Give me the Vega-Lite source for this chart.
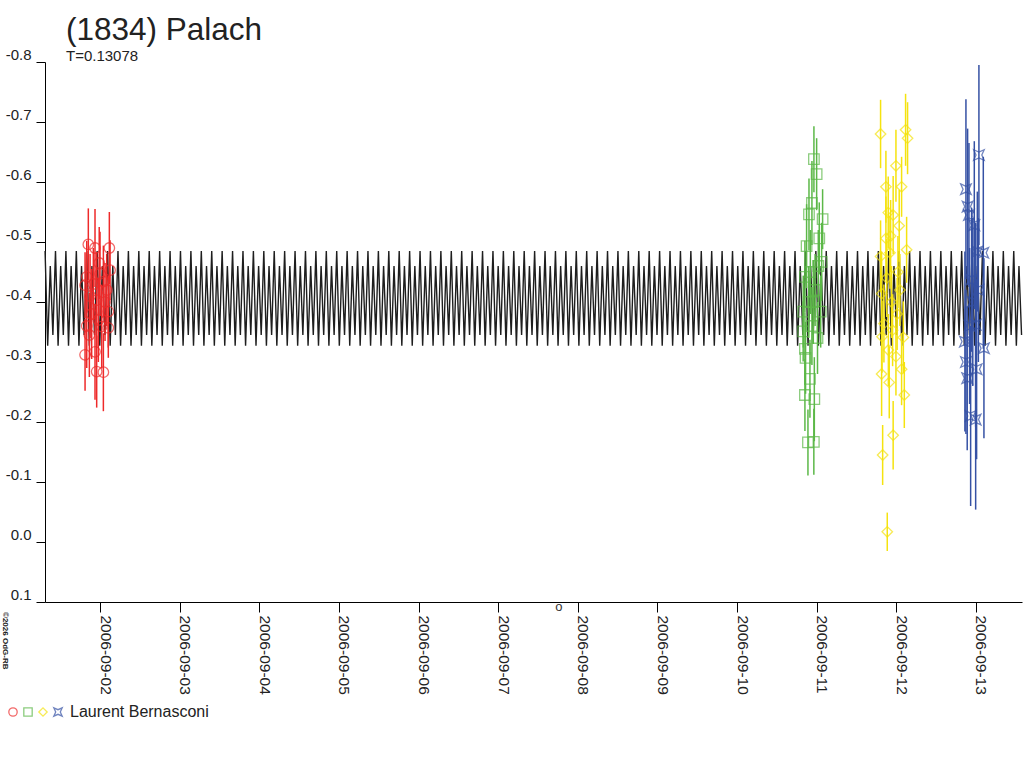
{
"$schema":"https://vega.github.io/schema/vega-lite/v6.json",
"width":977,"height":540,
"autosize":{"type":"none"},
"padding":{"left":45,"top":62,"right":2,"bottom":166},
"background":"white",
"title":{"text":"(1834) Palach","subtitle":"T=0.13078","anchor":"start","frame":"group","fontSize":31.5,"font":"Liberation Sans","fontWeight":"normal","color":"#222","subtitleFont":"Liberation Sans","subtitleFontSize":15,"subtitleColor":"#222","subtitlePadding":3,"offset":-17,"dx":21},
"config":{"view":{"stroke":null},"axis":{"domainColor":"#000","tickColor":"#000","labelColor":"#222","labelFont":"Liberation Sans","labelFontSize":15,"grid":false,"labelFlush":false,"labelOverlap":false,"labelBound":false}},
"datasets":{
"curve":[
{"d":1.3100,"m":-0.485},{"d":1.3427,"m":-0.327},{"d":1.3754,"m":-0.46},{"d":1.4081,"m":-0.345},
{"d":1.4408,"m":-0.485},{"d":1.4735,"m":-0.327},{"d":1.5062,"m":-0.46},{"d":1.5389,"m":-0.345},
{"d":1.5716,"m":-0.485},{"d":1.6043,"m":-0.327},{"d":1.6370,"m":-0.46},{"d":1.6697,"m":-0.345},
{"d":1.7024,"m":-0.485},{"d":1.7351,"m":-0.327},{"d":1.7678,"m":-0.46},{"d":1.8005,"m":-0.345},
{"d":1.8332,"m":-0.485},{"d":1.8659,"m":-0.327},{"d":1.8986,"m":-0.46},{"d":1.9313,"m":-0.345},
{"d":1.9640,"m":-0.485},{"d":1.9967,"m":-0.327},{"d":2.0294,"m":-0.46},{"d":2.0621,"m":-0.345},
{"d":2.0948,"m":-0.485},{"d":2.1275,"m":-0.327},{"d":2.1602,"m":-0.46},{"d":2.1929,"m":-0.345},
{"d":2.2256,"m":-0.485},{"d":2.2583,"m":-0.327},{"d":2.2910,"m":-0.46},{"d":2.3237,"m":-0.345},
{"d":2.3564,"m":-0.485},{"d":2.3891,"m":-0.327},{"d":2.4218,"m":-0.46},{"d":2.4545,"m":-0.345},
{"d":2.4872,"m":-0.485},{"d":2.5199,"m":-0.327},{"d":2.5526,"m":-0.46},{"d":2.5853,"m":-0.345},
{"d":2.6180,"m":-0.485},{"d":2.6507,"m":-0.327},{"d":2.6834,"m":-0.46},{"d":2.7161,"m":-0.345},
{"d":2.7488,"m":-0.485},{"d":2.7815,"m":-0.327},{"d":2.8142,"m":-0.46},{"d":2.8469,"m":-0.345},
{"d":2.8796,"m":-0.485},{"d":2.9123,"m":-0.327},{"d":2.9450,"m":-0.46},{"d":2.9777,"m":-0.345},
{"d":3.0104,"m":-0.485},{"d":3.0431,"m":-0.327},{"d":3.0758,"m":-0.46},{"d":3.1085,"m":-0.345},
{"d":3.1412,"m":-0.485},{"d":3.1739,"m":-0.327},{"d":3.2066,"m":-0.46},{"d":3.2393,"m":-0.345},
{"d":3.2720,"m":-0.485},{"d":3.3047,"m":-0.327},{"d":3.3374,"m":-0.46},{"d":3.3701,"m":-0.345},
{"d":3.4028,"m":-0.485},{"d":3.4355,"m":-0.327},{"d":3.4682,"m":-0.46},{"d":3.5009,"m":-0.345},
{"d":3.5336,"m":-0.485},{"d":3.5663,"m":-0.327},{"d":3.5990,"m":-0.46},{"d":3.6317,"m":-0.345},
{"d":3.6644,"m":-0.485},{"d":3.6971,"m":-0.327},{"d":3.7298,"m":-0.46},{"d":3.7625,"m":-0.345},
{"d":3.7952,"m":-0.485},{"d":3.8279,"m":-0.327},{"d":3.8606,"m":-0.46},{"d":3.8933,"m":-0.345},
{"d":3.9260,"m":-0.485},{"d":3.9587,"m":-0.327},{"d":3.9914,"m":-0.46},{"d":4.0241,"m":-0.345},
{"d":4.0568,"m":-0.485},{"d":4.0895,"m":-0.327},{"d":4.1222,"m":-0.46},{"d":4.1549,"m":-0.345},
{"d":4.1876,"m":-0.485},{"d":4.2203,"m":-0.327},{"d":4.2530,"m":-0.46},{"d":4.2857,"m":-0.345},
{"d":4.3184,"m":-0.485},{"d":4.3511,"m":-0.327},{"d":4.3838,"m":-0.46},{"d":4.4165,"m":-0.345},
{"d":4.4492,"m":-0.485},{"d":4.4819,"m":-0.327},{"d":4.5146,"m":-0.46},{"d":4.5473,"m":-0.345},
{"d":4.5800,"m":-0.485},{"d":4.6127,"m":-0.327},{"d":4.6454,"m":-0.46},{"d":4.6781,"m":-0.345},
{"d":4.7108,"m":-0.485},{"d":4.7435,"m":-0.327},{"d":4.7762,"m":-0.46},{"d":4.8089,"m":-0.345},
{"d":4.8416,"m":-0.485},{"d":4.8743,"m":-0.327},{"d":4.9070,"m":-0.46},{"d":4.9397,"m":-0.345},
{"d":4.9724,"m":-0.485},{"d":5.0051,"m":-0.327},{"d":5.0378,"m":-0.46},{"d":5.0705,"m":-0.345},
{"d":5.1032,"m":-0.485},{"d":5.1359,"m":-0.327},{"d":5.1686,"m":-0.46},{"d":5.2013,"m":-0.345},
{"d":5.2340,"m":-0.485},{"d":5.2667,"m":-0.327},{"d":5.2994,"m":-0.46},{"d":5.3321,"m":-0.345},
{"d":5.3648,"m":-0.485},{"d":5.3975,"m":-0.327},{"d":5.4302,"m":-0.46},{"d":5.4629,"m":-0.345},
{"d":5.4956,"m":-0.485},{"d":5.5283,"m":-0.327},{"d":5.5610,"m":-0.46},{"d":5.5937,"m":-0.345},
{"d":5.6264,"m":-0.485},{"d":5.6591,"m":-0.327},{"d":5.6918,"m":-0.46},{"d":5.7245,"m":-0.345},
{"d":5.7572,"m":-0.485},{"d":5.7899,"m":-0.327},{"d":5.8226,"m":-0.46},{"d":5.8553,"m":-0.345},
{"d":5.8880,"m":-0.485},{"d":5.9207,"m":-0.327},{"d":5.9534,"m":-0.46},{"d":5.9861,"m":-0.345},
{"d":6.0188,"m":-0.485},{"d":6.0515,"m":-0.327},{"d":6.0842,"m":-0.46},{"d":6.1169,"m":-0.345},
{"d":6.1496,"m":-0.485},{"d":6.1823,"m":-0.327},{"d":6.2150,"m":-0.46},{"d":6.2477,"m":-0.345},
{"d":6.2804,"m":-0.485},{"d":6.3131,"m":-0.327},{"d":6.3458,"m":-0.46},{"d":6.3785,"m":-0.345},
{"d":6.4112,"m":-0.485},{"d":6.4439,"m":-0.327},{"d":6.4766,"m":-0.46},{"d":6.5093,"m":-0.345},
{"d":6.5420,"m":-0.485},{"d":6.5747,"m":-0.327},{"d":6.6074,"m":-0.46},{"d":6.6401,"m":-0.345},
{"d":6.6728,"m":-0.485},{"d":6.7055,"m":-0.327},{"d":6.7382,"m":-0.46},{"d":6.7709,"m":-0.345},
{"d":6.8036,"m":-0.485},{"d":6.8363,"m":-0.327},{"d":6.8690,"m":-0.46},{"d":6.9017,"m":-0.345},
{"d":6.9344,"m":-0.485},{"d":6.9671,"m":-0.327},{"d":6.9998,"m":-0.46},{"d":7.0325,"m":-0.345},
{"d":7.0652,"m":-0.485},{"d":7.0979,"m":-0.327},{"d":7.1306,"m":-0.46},{"d":7.1633,"m":-0.345},
{"d":7.1960,"m":-0.485},{"d":7.2287,"m":-0.327},{"d":7.2614,"m":-0.46},{"d":7.2941,"m":-0.345},
{"d":7.3268,"m":-0.485},{"d":7.3595,"m":-0.327},{"d":7.3922,"m":-0.46},{"d":7.4249,"m":-0.345},
{"d":7.4576,"m":-0.485},{"d":7.4903,"m":-0.327},{"d":7.5230,"m":-0.46},{"d":7.5557,"m":-0.345},
{"d":7.5884,"m":-0.485},{"d":7.6211,"m":-0.327},{"d":7.6538,"m":-0.46},{"d":7.6865,"m":-0.345},
{"d":7.7192,"m":-0.485},{"d":7.7519,"m":-0.327},{"d":7.7846,"m":-0.46},{"d":7.8173,"m":-0.345},
{"d":7.8500,"m":-0.485},{"d":7.8827,"m":-0.327},{"d":7.9154,"m":-0.46},{"d":7.9481,"m":-0.345},
{"d":7.9808,"m":-0.485},{"d":8.0135,"m":-0.327},{"d":8.0462,"m":-0.46},{"d":8.0789,"m":-0.345},
{"d":8.1116,"m":-0.485},{"d":8.1443,"m":-0.327},{"d":8.1770,"m":-0.46},{"d":8.2097,"m":-0.345},
{"d":8.2424,"m":-0.485},{"d":8.2751,"m":-0.327},{"d":8.3078,"m":-0.46},{"d":8.3405,"m":-0.345},
{"d":8.3732,"m":-0.485},{"d":8.4059,"m":-0.327},{"d":8.4386,"m":-0.46},{"d":8.4713,"m":-0.345},
{"d":8.5040,"m":-0.485},{"d":8.5367,"m":-0.327},{"d":8.5694,"m":-0.46},{"d":8.6021,"m":-0.345},
{"d":8.6348,"m":-0.485},{"d":8.6675,"m":-0.327},{"d":8.7002,"m":-0.46},{"d":8.7329,"m":-0.345},
{"d":8.7656,"m":-0.485},{"d":8.7983,"m":-0.327},{"d":8.8310,"m":-0.46},{"d":8.8637,"m":-0.345},
{"d":8.8964,"m":-0.485},{"d":8.9291,"m":-0.327},{"d":8.9618,"m":-0.46},{"d":8.9945,"m":-0.345},
{"d":9.0272,"m":-0.485},{"d":9.0599,"m":-0.327},{"d":9.0926,"m":-0.46},{"d":9.1253,"m":-0.345},
{"d":9.1580,"m":-0.485},{"d":9.1907,"m":-0.327},{"d":9.2234,"m":-0.46},{"d":9.2561,"m":-0.345},
{"d":9.2888,"m":-0.485},{"d":9.3215,"m":-0.327},{"d":9.3542,"m":-0.46},{"d":9.3869,"m":-0.345},
{"d":9.4196,"m":-0.485},{"d":9.4523,"m":-0.327},{"d":9.4850,"m":-0.46},{"d":9.5177,"m":-0.345},
{"d":9.5504,"m":-0.485},{"d":9.5831,"m":-0.327},{"d":9.6158,"m":-0.46},{"d":9.6485,"m":-0.345},
{"d":9.6812,"m":-0.485},{"d":9.7139,"m":-0.327},{"d":9.7466,"m":-0.46},{"d":9.7793,"m":-0.345},
{"d":9.8120,"m":-0.485},{"d":9.8447,"m":-0.327},{"d":9.8774,"m":-0.46},{"d":9.9101,"m":-0.345},
{"d":9.9428,"m":-0.485},{"d":9.9755,"m":-0.327},{"d":10.0082,"m":-0.46},{"d":10.0409,"m":-0.345},
{"d":10.0736,"m":-0.485},{"d":10.1063,"m":-0.327},{"d":10.1390,"m":-0.46},{"d":10.1717,"m":-0.345},
{"d":10.2044,"m":-0.485},{"d":10.2371,"m":-0.327},{"d":10.2698,"m":-0.46},{"d":10.3025,"m":-0.345},
{"d":10.3352,"m":-0.485},{"d":10.3679,"m":-0.327},{"d":10.4006,"m":-0.46},{"d":10.4333,"m":-0.345},
{"d":10.4660,"m":-0.485},{"d":10.4987,"m":-0.327},{"d":10.5314,"m":-0.46},{"d":10.5641,"m":-0.345},
{"d":10.5968,"m":-0.485},{"d":10.6295,"m":-0.327},{"d":10.6622,"m":-0.46},{"d":10.6949,"m":-0.345},
{"d":10.7276,"m":-0.485},{"d":10.7603,"m":-0.327},{"d":10.7930,"m":-0.46},{"d":10.8257,"m":-0.345},
{"d":10.8584,"m":-0.485},{"d":10.8911,"m":-0.327},{"d":10.9238,"m":-0.46},{"d":10.9565,"m":-0.345},
{"d":10.9892,"m":-0.485},{"d":11.0219,"m":-0.327},{"d":11.0546,"m":-0.46},{"d":11.0873,"m":-0.345},
{"d":11.1200,"m":-0.485},{"d":11.1527,"m":-0.327},{"d":11.1854,"m":-0.46},{"d":11.2181,"m":-0.345},
{"d":11.2508,"m":-0.485},{"d":11.2835,"m":-0.327},{"d":11.3162,"m":-0.46},{"d":11.3489,"m":-0.345},
{"d":11.3816,"m":-0.485},{"d":11.4143,"m":-0.327},{"d":11.4470,"m":-0.46},{"d":11.4797,"m":-0.345},
{"d":11.5124,"m":-0.485},{"d":11.5451,"m":-0.327},{"d":11.5778,"m":-0.46},{"d":11.6105,"m":-0.345},
{"d":11.6432,"m":-0.485},{"d":11.6759,"m":-0.327},{"d":11.7086,"m":-0.46},{"d":11.7413,"m":-0.345},
{"d":11.7740,"m":-0.485},{"d":11.8067,"m":-0.327},{"d":11.8394,"m":-0.46},{"d":11.8721,"m":-0.345},
{"d":11.9048,"m":-0.485},{"d":11.9375,"m":-0.327},{"d":11.9702,"m":-0.46},{"d":12.0029,"m":-0.345},
{"d":12.0356,"m":-0.485},{"d":12.0683,"m":-0.327},{"d":12.1010,"m":-0.46},{"d":12.1337,"m":-0.345},
{"d":12.1664,"m":-0.485},{"d":12.1991,"m":-0.327},{"d":12.2318,"m":-0.46},{"d":12.2645,"m":-0.345},
{"d":12.2972,"m":-0.485},{"d":12.3299,"m":-0.327},{"d":12.3626,"m":-0.46},{"d":12.3953,"m":-0.345},
{"d":12.4280,"m":-0.485},{"d":12.4607,"m":-0.327},{"d":12.4934,"m":-0.46},{"d":12.5261,"m":-0.345},
{"d":12.5588,"m":-0.485},{"d":12.5915,"m":-0.327},{"d":12.6242,"m":-0.46},{"d":12.6569,"m":-0.345},
{"d":12.6896,"m":-0.485},{"d":12.7223,"m":-0.327},{"d":12.7550,"m":-0.46},{"d":12.7877,"m":-0.345},
{"d":12.8204,"m":-0.485},{"d":12.8531,"m":-0.327},{"d":12.8858,"m":-0.46},{"d":12.9185,"m":-0.345},
{"d":12.9512,"m":-0.485},{"d":12.9839,"m":-0.327},{"d":13.0166,"m":-0.46},{"d":13.0493,"m":-0.345},
{"d":13.0820,"m":-0.485},{"d":13.1147,"m":-0.327},{"d":13.1474,"m":-0.46},{"d":13.1801,"m":-0.345},
{"d":13.2128,"m":-0.485},{"d":13.2455,"m":-0.327},{"d":13.2782,"m":-0.46},{"d":13.3109,"m":-0.345},
{"d":13.3436,"m":-0.485},{"d":13.3763,"m":-0.327},{"d":13.4090,"m":-0.46},{"d":13.4417,"m":-0.345},
{"d":13.4744,"m":-0.485},{"d":13.5071,"m":-0.327},{"d":13.5398,"m":-0.46},{"d":13.5725,"m":-0.345}
],
"obs":[
{"s":"a","d":1.853,"m":-0.496,"e":0.06},{"s":"a","d":1.937,"m":-0.490,"e":0.065},{"s":"a","d":2.117,"m":-0.490,"e":0.06},{"s":"a","d":2.126,"m":-0.453,"e":0.05},
{"s":"a","d":1.833,"m":-0.442,"e":0.06},{"s":"a","d":2.000,"m":-0.447,"e":0.07},{"s":"a","d":2.042,"m":-0.434,"e":0.06},{"s":"a","d":1.812,"m":-0.428,"e":0.055},
{"s":"a","d":1.958,"m":-0.403,"e":0.08},{"s":"a","d":2.104,"m":-0.384,"e":0.06},{"s":"a","d":1.833,"m":-0.360,"e":0.07},{"s":"a","d":2.104,"m":-0.357,"e":0.05},
{"s":"a","d":2.021,"m":-0.359,"e":0.07},{"s":"a","d":1.812,"m":-0.312,"e":0.06},{"s":"a","d":1.937,"m":-0.317,"e":0.08},{"s":"a","d":1.958,"m":-0.284,"e":0.06},
{"s":"a","d":2.042,"m":-0.283,"e":0.065},{"s":"a","d":1.875,"m":-0.410,"e":0.07},{"s":"a","d":1.895,"m":-0.380,"e":0.075},{"s":"a","d":1.916,"m":-0.430,"e":0.06},
{"s":"a","d":1.979,"m":-0.370,"e":0.07},{"s":"a","d":2.063,"m":-0.400,"e":0.065},{"s":"a","d":1.866,"m":-0.345,"e":0.07},{"s":"a","d":2.084,"m":-0.420,"e":0.06},
{"s":"a","d":1.990,"m":-0.465,"e":0.06},
{"s":"b","d":10.965,"m":-0.638,"e":0.055},{"s":"b","d":10.999,"m":-0.613,"e":0.06},{"s":"b","d":10.940,"m":-0.565,"e":0.07},{"s":"b","d":10.903,"m":-0.546,"e":0.06},
{"s":"b","d":11.074,"m":-0.538,"e":0.05},{"s":"b","d":11.032,"m":-0.506,"e":0.06},{"s":"b","d":10.873,"m":-0.493,"e":0.07},{"s":"b","d":11.062,"m":-0.467,"e":0.065},
{"s":"b","d":10.852,"m":-0.442,"e":0.06},{"s":"b","d":10.957,"m":-0.400,"e":0.07},{"s":"b","d":10.831,"m":-0.384,"e":0.06},{"s":"b","d":11.050,"m":-0.384,"e":0.06},
{"s":"b","d":10.830,"m":-0.351,"e":0.05},{"s":"b","d":10.852,"m":-0.322,"e":0.06},{"s":"b","d":10.860,"m":-0.307,"e":0.06},{"s":"b","d":10.915,"m":-0.272,"e":0.065},
{"s":"b","d":10.852,"m":-0.245,"e":0.06},{"s":"b","d":10.970,"m":-0.238,"e":0.07},{"s":"b","d":10.890,"m":-0.166,"e":0.055},{"s":"b","d":10.964,"m":-0.167,"e":0.055},
{"s":"b","d":10.920,"m":-0.450,"e":0.07},{"s":"b","d":10.980,"m":-0.420,"e":0.06},{"s":"b","d":10.940,"m":-0.360,"e":0.065},{"s":"b","d":11.010,"m":-0.340,"e":0.06},
{"s":"b","d":10.900,"m":-0.400,"e":0.06},{"s":"b","d":11.020,"m":-0.460,"e":0.06},
{"s":"c","d":11.802,"m":-0.680,"e":0.057},{"s":"c","d":12.116,"m":-0.687,"e":0.06},{"s":"c","d":12.141,"m":-0.673,"e":0.06},{"s":"c","d":11.995,"m":-0.627,"e":0.06},
{"s":"c","d":11.869,"m":-0.592,"e":0.06},{"s":"c","d":12.066,"m":-0.592,"e":0.05},{"s":"c","d":11.898,"m":-0.549,"e":0.06},{"s":"c","d":11.960,"m":-0.545,"e":0.065},
{"s":"c","d":12.036,"m":-0.527,"e":0.06},{"s":"c","d":11.869,"m":-0.506,"e":0.07},{"s":"c","d":11.928,"m":-0.510,"e":0.06},{"s":"c","d":11.920,"m":-0.482,"e":0.06},
{"s":"c","d":11.802,"m":-0.476,"e":0.06},{"s":"c","d":12.129,"m":-0.487,"e":0.055},{"s":"c","d":12.045,"m":-0.420,"e":0.06},{"s":"c","d":11.815,"m":-0.414,"e":0.07},
{"s":"c","d":11.844,"m":-0.364,"e":0.065},{"s":"c","d":11.953,"m":-0.353,"e":0.06},{"s":"c","d":11.820,"m":-0.342,"e":0.06},{"s":"c","d":12.088,"m":-0.341,"e":0.06},
{"s":"c","d":11.995,"m":-0.309,"e":0.065},{"s":"c","d":12.066,"m":-0.288,"e":0.06},{"s":"c","d":11.815,"m":-0.280,"e":0.07},{"s":"c","d":11.911,"m":-0.266,"e":0.06},
{"s":"c","d":12.100,"m":-0.245,"e":0.055},{"s":"c","d":11.960,"m":-0.178,"e":0.057},{"s":"c","d":11.828,"m":-0.145,"e":0.05},{"s":"c","d":11.886,"m":-0.017,"e":0.032},
{"s":"c","d":11.880,"m":-0.440,"e":0.065},{"s":"c","d":11.940,"m":-0.400,"e":0.06},{"s":"c","d":12.010,"m":-0.380,"e":0.06},{"s":"c","d":11.900,"m":-0.320,"e":0.06},
{"s":"c","d":12.020,"m":-0.450,"e":0.06},
{"s":"d","d":13.037,"m":-0.645,"e":0.15},{"s":"d","d":12.874,"m":-0.588,"e":0.15},{"s":"d","d":12.895,"m":-0.559,"e":0.13},{"s":"d","d":12.912,"m":-0.545,"e":0.12},
{"s":"d","d":12.979,"m":-0.528,"e":0.14},{"s":"d","d":13.017,"m":-0.484,"e":0.10},{"s":"d","d":13.092,"m":-0.482,"e":0.16},{"s":"d","d":12.945,"m":-0.437,"e":0.12},
{"s":"d","d":12.996,"m":-0.362,"e":0.17},{"s":"d","d":12.861,"m":-0.334,"e":0.15},{"s":"d","d":13.100,"m":-0.323,"e":0.15},{"s":"d","d":12.874,"m":-0.300,"e":0.12},
{"s":"d","d":13.008,"m":-0.288,"e":0.15},{"s":"d","d":12.890,"m":-0.273,"e":0.12},{"s":"d","d":12.933,"m":-0.210,"e":0.15},{"s":"d","d":12.996,"m":-0.204,"e":0.15},
{"s":"d","d":12.960,"m":-0.400,"e":0.14},{"s":"d","d":12.920,"m":-0.360,"e":0.13},{"s":"d","d":13.030,"m":-0.420,"e":0.12}
]
},
"encoding":{
"x":{"field":"d","type":"quantitative","scale":{"domain":[1.309,13.578],"nice":false,"zero":false},
"axis":{"title":null,"values":[2,3,4,5,6,7,8,9,10,11,12,13],"labelExpr":"'2006-09-' + (datum.value < 10 ? '0' : '') + datum.value","tickSize":10,"labelAngle":90,"labelAlign":"left","labelBaseline":"alphabetic","labelPadding":3,"labelFontSize":15.5}},
"y":{"field":"m","type":"quantitative","scale":{"domain":[-0.8,0.1],"reverse":true,"nice":false,"zero":false},
"axis":{"title":null,"values":[-0.8,-0.7,-0.6,-0.5,-0.4,-0.3,-0.2,-0.1,0,0.1],"labelExpr":"(datum.value < -0.001 ? '-' : '') + format(abs(datum.value), '.1f')","tickSize":9,"labelPadding":5,"labelBaseline":"bottom","labelFontSize":15}}
},
"layer":[
{"data":{"name":"curve"},"mark":{"type":"line","color":"#1e1e1e","strokeWidth":1.4}},
{"data":{"name":"obs"},"mark":{"type":"errorbar","ticks":false,"thickness":1.5},
"encoding":{"yError":{"field":"e"},"color":{"field":"s","type":"nominal"}}},
{"data":{"name":"obs"},"mark":{"type":"point","filled":false,"size":110,"strokeWidth":1.3},
"encoding":{
"color":{"field":"s","type":"nominal","scale":{"domain":["a","b","c","d"],"range":["#ee2a2a","#5cb848","#f5e30f","#3551a4"]},
"legend":{"orient":"none","legendX":-40,"legendY":642,"direction":"horizontal","title":"Laurent Bernasconi","titleOrient":"right","titleFontSize":16,"titleFont":"Liberation Sans","titleFontWeight":"normal","titleColor":"#222","titlePadding":5,"titleBaseline":"middle","titleAlign":"left","symbolSize":70,"symbolStrokeWidth":1.3,"labelFontSize":16,"labelOffset":-12,"columnPadding":0,"gridAlign":"none","padding":0,"labelExpr":"''"}},
"shape":{"field":"s","type":"nominal","scale":{"domain":["a","b","c","d"],"range":["circle","square","diamond","M-1,-1L0,-0.55L1,-1L0.55,0L1,1L0,0.55L-1,1L-0.55,0Z"]}}
}},
{"data":{"values":[{"d":0.78,"m":0.1167,"t":"©2026 OdG-RB"}]},"mark":{"type":"text","angle":90,"align":"left","baseline":"alphabetic","fontSize":8,"fontWeight":"bold","font":"Liberation Sans","color":"#222"},
"encoding":{"text":{"field":"t"}}},
{"data":{"values":[{"d":7.763,"m":0.1083,"t":"o"}]},"mark":{"type":"text","align":"center","baseline":"middle","fontSize":13,"font":"Liberation Sans","color":"#333"},
"encoding":{"text":{"field":"t"}}}
]
}
